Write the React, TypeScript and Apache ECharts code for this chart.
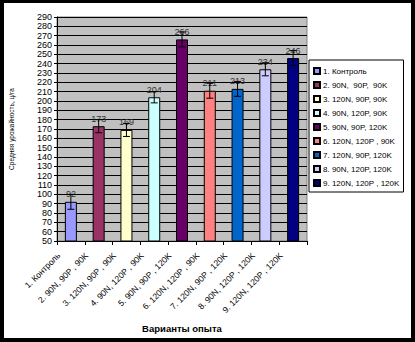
import React, { useEffect, useRef } from "react";
import * as echarts from "echarts";

const categories = [
  "1. Контроль",
  "2. 90N, 90P , 90K",
  "3. 120N, 90P , 90K",
  "4. 90N, 120P , 90K",
  "5. 90N, 90P , 120K",
  "6. 120N, 120P , 90K",
  "7. 120N, 90P , 120K",
  "8. 90N, 120P , 120K",
  "9. 120N, 120P , 120K",
];
const legendNames = [
  "1. Контроль",
  "2. 90N,  90P,  90K",
  "3. 120N, 90P, 90K",
  "4. 90N, 120P, 90K",
  "5. 90N, 90P, 120K",
  "6. 120N, 120P , 90K",
  "7. 120N, 90P, 120K",
  "8. 90N, 120P, 120K",
  "9. 120N, 120P , 120K",
];
const values = [92, 173, 169, 204, 266, 211, 213, 234, 246];
const errors = [8, 7, 7, 6, 8, 8, 8, 7, 8];
const colors = ["#9999FF", "#993366", "#FFFFCC", "#CCFFFF", "#660066", "#FF8080", "#0066CC", "#CCCCFF", "#000080"];
const yMin = 50;
const yMax = 290;
const yStep = 10;

const FONT = "Arial, 'Liberation Sans', sans-serif";

export default function App() {
  const ref = useRef<HTMLDivElement>(null);
  useEffect(() => {
    if (!ref.current) return;
    const chart = echarts.init(ref.current, null, { renderer: "svg" });
    const barSeries = legendNames.map((name, i) => ({
      name,
      type: "bar",
      data: values.map((v, j) => (j === i ? v : null)),
      barWidth: 12,
      barGap: "-100%",
      itemStyle: { color: colors[i], borderColor: "#000", borderWidth: 1 },
      label: {
        show: true,
        position: "top",
        distance: 3,
        fontSize: 9,
        fontFamily: FONT,
        color: "#333",
      },
      z: 2,
    }));
    const errSeries = {
      type: "custom",
      name: "err",
      z: 5,
      data: values.map((v, i) => [i, v, errors[i]]),
      renderItem: (params: any, api: any) => {
        const x = api.value(0);
        const v = api.value(1);
        const e = api.value(2);
        const top = api.coord([x, v + e]);
        const bot = api.coord([x, v - e]);
        const w = 3.5;
        const style = { stroke: "#000", lineWidth: 1 };
        return {
          type: "group",
          children: [
            { type: "line", shape: { x1: top[0], y1: top[1], x2: bot[0], y2: bot[1] }, style },
            { type: "line", shape: { x1: top[0] - w, y1: top[1], x2: top[0] + w, y2: top[1] }, style },
            { type: "line", shape: { x1: bot[0] - w, y1: bot[1], x2: bot[0] + w, y2: bot[1] }, style },
          ],
        };
      },
    };
    chart.setOption({
      animation: false,
      backgroundColor: "#fff",
      textStyle: { fontFamily: FONT },
      grid: {
        left: 56,
        top: 17,
        right: 108,
        bottom: 101,
        show: true,
        backgroundColor: "#C0C0C0",
        borderColor: "#808080",
        borderWidth: 1,
        containLabel: false,
      },
      legend: {
        orient: "vertical",
        left: 309,
        top: 60,
        data: legendNames,
        icon: "rect",
        itemWidth: 6,
        itemHeight: 6,
        itemGap: 4,
        padding: [6, 4, 4, 4],
        borderColor: "#000",
        borderWidth: 1,
        backgroundColor: "#fff",
        textStyle: { fontSize: 8, fontFamily: FONT, color: "#000", lineHeight: 10, padding: [0, 0, 0, -2] },
      },
      xAxis: {
        type: "category",
        data: categories,
        name: "Варианты опыта",
        nameLocation: "middle",
        nameGap: 82,
        nameTextStyle: { fontSize: 9.5, fontWeight: "bold", fontFamily: FONT, color: "#000" },
        axisLine: { show: true, lineStyle: { color: "#000", width: 1 } },
        axisTick: { show: true, length: 4, alignWithLabel: false, lineStyle: { color: "#000" } },
        axisLabel: {
          interval: 0,
          rotate: 45,
          margin: 1,
          fontSize: 8.5,
          fontFamily: FONT,
          color: "#000",
          padding: [0, 17, 0, 0],
        },
        splitLine: { show: false },
      },
      yAxis: {
        type: "value",
        min: yMin,
        max: yMax,
        interval: yStep,
        name: "Средняя урожайность, ц/га",
        nameLocation: "middle",
        nameRotate: 90,
        nameGap: 42,
        nameTextStyle: { fontSize: 6.5, fontFamily: FONT, color: "#000" },
        axisLine: { show: true, lineStyle: { color: "#000", width: 1 } },
        axisTick: { show: true, length: 3, lineStyle: { color: "#000" } },
        axisLabel: { fontSize: 9, fontFamily: FONT, color: "#000", margin: 5 },
        splitLine: { show: true, lineStyle: { color: "#000", width: 1 } },
      },
      graphic: [
        { type: "rect", shape: { x: 0, y: 0, width: 415, height: 3 }, style: { fill: "#000" }, z: 100 },
        { type: "rect", shape: { x: 0, y: 338, width: 415, height: 4 }, style: { fill: "#000" }, z: 100 },
        { type: "rect", shape: { x: 0, y: 0, width: 4, height: 342 }, style: { fill: "#000" }, z: 100 },
        { type: "rect", shape: { x: 411, y: 0, width: 4, height: 342 }, style: { fill: "#000" }, z: 100 },
      ],
      series: [...barSeries, errSeries],
    });
    return () => chart.dispose();
  }, []);
  return (
    <div style={{ position: "fixed", left: 0, top: 0, width: 415, height: 342 }}>
      <div ref={ref} style={{ width: 415, height: 342 }} />
    </div>
  );
}
